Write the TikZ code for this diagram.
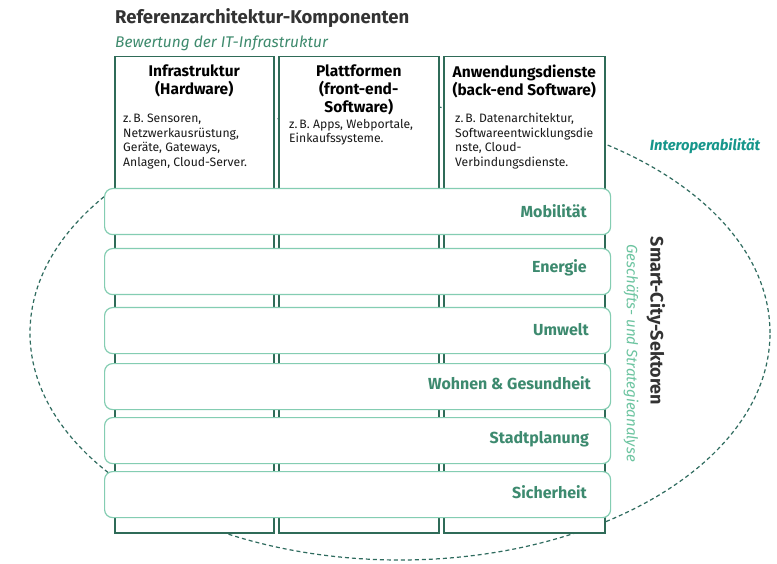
\documentclass[tikz,border=0pt]{standalone}
\usepackage{fontspec}
\setmainfont{Fira Sans}
\usetikzlibrary{calc}
\definecolor{colborder}{HTML}{2F6B58}
\definecolor{secborder}{HTML}{84CDB2}
\definecolor{sectext}{HTML}{3D8A6F}
\definecolor{subtitle}{HTML}{3F8B6E}
\definecolor{interop}{HTML}{16968B}
\definecolor{ellcol}{HTML}{2E6B5E}
\definecolor{strat}{HTML}{6CC4A0}
\definecolor{titlecol}{HTML}{333333}
\begin{document}
\begin{tikzpicture}[x=1pt,y=-1pt,
  colbox/.style={draw=colborder, line width=1.5pt, fill=white, anchor=north west, inner sep=0pt, minimum height=476pt},
  secbox/.style={draw=secborder, line width=1.2pt, fill=white, rounded corners=8pt, anchor=north west, inner sep=0pt, minimum width=506pt, minimum height=46pt},
  seclabel/.style={anchor=east, font=\fontsize{16}{18}\selectfont\bfseries, text=sectext, inner sep=0pt},
  colhead/.style={anchor=north, align=center, font=\fontsize{15.5}{18}\selectfont\bfseries, text=black, inner sep=0pt},
  colbody/.style={anchor=north west, align=left, font=\fontsize{12.2}{14.5}\selectfont, text=black!90, inner sep=0pt},
  ellipsestyle/.style={draw=ellcol, line width=1.2pt, dash pattern=on 4pt off 3pt}
]
\useasboundingbox (0,0) rectangle (777,564);
\fill[white] (0,0) rectangle (777,564);

% ellipse
\coordinate (ec) at (400,333);
\draw[ellipsestyle] (ec) ellipse [x radius=370pt, y radius=227pt];

% titles
\node[anchor=base west, inner sep=0pt, font=\fontsize{18.5}{22}\selectfont\bfseries, text=titlecol] (title) at (115,24) {Referenzarchitektur-Komponenten};
\node[anchor=base west, inner sep=0pt, font=\fontsize{15.5}{19}\selectfont\itshape, text=subtitle] (subtitle) at (115,48) {Bewertung der IT-Infrastruktur};

% columns
\node[colbox, minimum width=159pt] (c1) at (114,56) {};
\node[colbox, minimum width=160pt] (c2) at (278,56) {};
\node[colbox, minimum width=161pt] (c3) at (443,56) {};

\node[colhead] (h1) at (c1.north |- 0,65) {Infrastruktur\\(Hardware)};
\node[colhead] (h2) at (c2.north |- 0,65) {Plattformen\\(front-end-\\Software)};
\node[colhead] (h3) at (c3.north |- 0,65) {Anwendungsdienste\\(back-end Software)};

\node[colbody] (b1) at (123,114) {z.\,B. Sensoren,\\Netzwerkausrüstung,\\Geräte, Gateways,\\Anlagen, Cloud-Server.};
\node[colbody] (b2) at (289,119) {z.\,B. Apps, Webportale,\\Einkaufssysteme.};
\node[colbody] (b3) at (455,113) {z.\,B. Datenarchitektur,\\Softwareentwicklungsdie\\nste, Cloud-\\Verbindungsdienste.};

% sectors
\node[secbox] (s1) at (104,188) {};
\node[secbox] (s2) at (104,248) {};
\node[secbox] (s3) at (104,307) {};
\node[secbox] (s4) at (104,363) {};
\node[secbox] (s5) at (104,417) {};
\node[secbox] (s6) at (104,471) {};

\node[seclabel] (l1) at (587,211) {Mobilität};
\node[seclabel] (l2) at (587,268) {Energie};
\node[seclabel] (l3) at (589,330) {Umwelt};
\node[seclabel] (l4) at (591,383) {Wohnen \& Gesundheit};
\node[seclabel] (l5) at (589,439) {Stadtplanung};
\node[seclabel] (l6) at (587,492) {Sicherheit};

% side labels
\node[rotate=-90, inner sep=0pt, font=\fontsize{18}{21}\selectfont\bfseries, text=titlecol] (smart) at (656,321) {Smart-City-Sektoren};
\node[rotate=-90, inner sep=0pt, font=\fontsize{15}{18}\selectfont\itshape, text=strat] (strat) at (631,353) {Geschäfts- und Strategieanalyse};
\node[inner sep=0pt, font=\fontsize{14.8}{17}\selectfont\bfseries\itshape, text=interop] (interop) at (705,146) {Interoperabilität};
\end{tikzpicture}
\end{document}
